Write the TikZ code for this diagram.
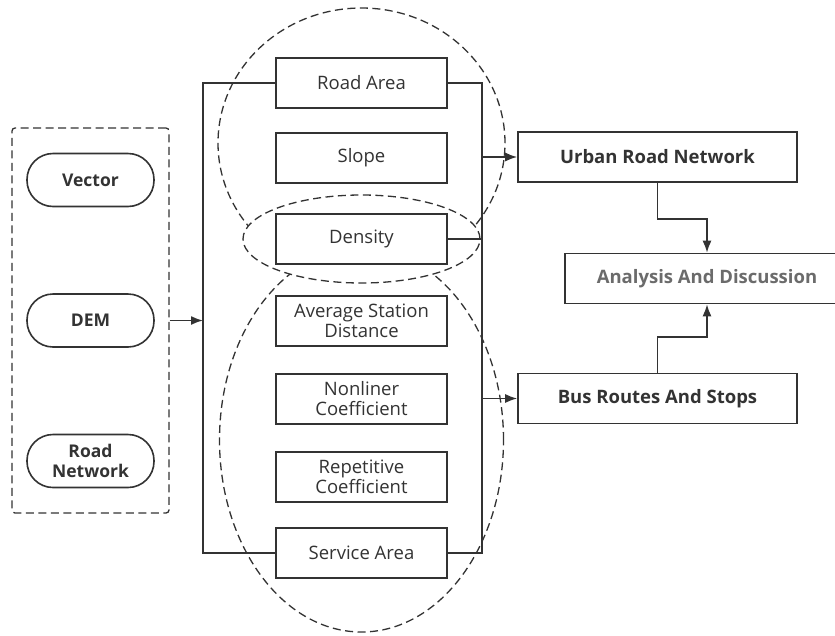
\documentclass[tikz,border=0pt]{standalone}
\usepackage{fontspec}
\setmainfont{Open Sans}
\usetikzlibrary{arrows.meta}
\definecolor{ink}{HTML}{333333}
\definecolor{soft}{HTML}{6B6B6B}
\tikzset{
  box/.style={draw=ink, line width=1.6pt, fill=white, minimum width=171pt, minimum height=50pt, inner sep=0pt, align=center, text=ink, font=\fontsize{18.5}{20}\selectfont},
  pill/.style={draw=ink, line width=1.6pt, rounded corners=26pt, minimum width=127pt, minimum height=53pt, inner sep=0pt, align=center, text=ink, font=\bfseries\fontsize{17.5}{20}\selectfont},
  result/.style={box, minimum width=279pt, font=\bfseries\fontsize{18.5}{20}\selectfont},
  group/.style={draw=ink, line width=1.3pt, dash pattern=on 8pt off 4.5pt},
  link/.style={draw=ink, line width=1.6pt},
}
\begin{document}
\begin{tikzpicture}[x=1pt, y=-1pt, >={Latex[length=12pt, width=9pt]}]
\useasboundingbox[fill=white] (0,0) rectangle (835,635);

% dashed groups
\draw[group] (361.5,143) ellipse [x radius=143.5pt, y radius=135pt];
\draw[group] (361.5,440) ellipse [x radius=142pt, y radius=192pt];
\draw[group, fill=white] (361.5,239) ellipse [x radius=118.5pt, y radius=44pt];

% input data
\node[group, rounded corners=3pt, minimum width=157pt, minimum height=385pt] (src) at (90.5,320.5) {};
\node[pill] (vector) at (90.5,180) {Vector};
\node[pill] (dem) at (90.5,320.5) {DEM};
\node[pill] (roadnet) at (90.5,461) {Road\\Network};

% indicators
\node[box] (roadarea) at (361.5,83) {Road Area};
\node[box] (slope) at (361.5,158) {Slope};
\node[box] (density) at (361.5,239) {Density};
\node[box] (avgdist) at (361.5,321) {Average Station\\Distance};
\node[box] (nonlin) at (361.5,399) {Nonliner\\Coefficient};
\node[box] (repet) at (361.5,477) {Repetitive\\Coefficient};
\node[box] (service) at (361.5,553) {Service Area};

% results
\node[result] (urban) at (657.5,157) {Urban Road Network};
\node[result] (bus) at (657.5,398.5) {Bus Routes And Stops};
\node[result, minimum width=284pt, text=soft] (analysis) at (707,278.5) {Analysis And Discussion};

% bus lines
\coordinate (lt) at (203,83);
\coordinate (lb) at (203,553);
\coordinate (rt) at (482,83);
\coordinate (rb) at (482,553);
\draw[link] (roadarea.west) -- (lt) -- (lb) -- (service.west);
\draw[link] (roadarea.east) -- (rt) -- (rb) -- (service.east);
\draw[link] (density.east) -- (rt |- density.east);
\draw[link, ->] (src.east |- dem.east) -- (lt |- dem.east);
\draw[link, ->] (rt |- urban.west) -- (urban.west);
\draw[link, ->] (rt |- bus.west) -- (bus.west);

\draw[link, ->] (urban.south) -- ++(0,36) -| (analysis.north);
\draw[link, ->] (bus.north) -- ++(0,-36) -| (analysis.south);

\end{tikzpicture}
\end{document}
